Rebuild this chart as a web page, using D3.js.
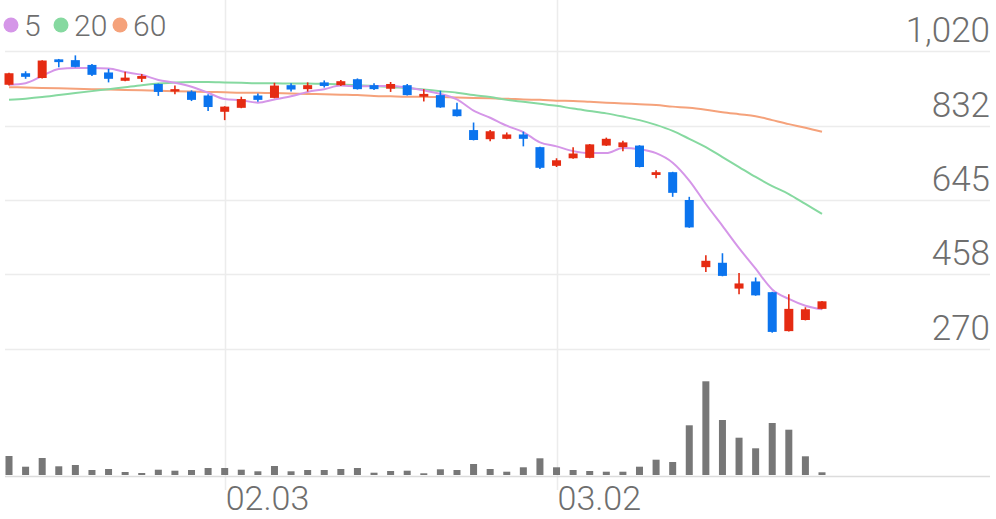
<!DOCTYPE html>
<html><head><meta charset="utf-8">
<script src="https://cdn.jsdelivr.net/npm/d3@7"></script>
<style>
body{margin:0;background:#fff}
svg{display:block}
text{font-family:Roboto,"Noto Sans",sans-serif}
</style></head>
<body><svg id="c" width="996" height="519"></svg>
<script>
// ---- data ----
const dates = ["01.13","01.14","01.15","01.16","01.17","01.20","01.21","01.22","01.23","01.28",
"01.29","01.30","01.31","02.03","02.04","02.05","02.06","02.07","02.10","02.11",
"02.12","02.13","02.14","02.17","02.18","02.19","02.20","02.21","02.24","02.25",
"02.26","02.27","02.28","03.02","03.03","03.04","03.05","03.06","03.09","03.10",
"03.11","03.12","03.13","03.16","03.17","03.18","03.19","03.20","03.23","03.24"];
const open  = [935,964,952,999,997,985,966,945,950,937,918,918,908,867,877,908,902,934,924,941,
934,949,934,925,934,905,909,873,821,798,799,810,778,731,750,751,782,778,782,708,
715,645,476,487,422,440,413,315,343,371];
const high  = [965,969,997,1000,1009,987,975,968,962,938,933,921,911,881,905,913,940,939,941,946,
947,951,939,942,937,924,920,890,840,821,815,817,779,750,778,786,802,794,783,720,
716,653,506,511,461,450,414,408,375,391];
const low   = [933,950,951,979,979,957,941,944,942,907,911,894,869,846,876,892,901,918,918,928,
932,923,922,917,908,893,877,855,795,793,798,780,723,728,749,750,781,768,727,700,
653,575,464,453,408,404,311,314,342,370];
const close = [964,955,996,992,980,960,950,953,957,917,924,897,879,880,899,897,933,923,934,932,
944,924,924,937,909,912,878,856,796,818,810,799,726,745,762,785,799,790,728,715,
663,576,492,454,435,405,313,371,370,390];
const volume = [190,83,170,87,100,50,60,30,20,53,43,50,70,70,53,37,90,37,50,50,
60,70,23,40,43,17,57,50,110,60,33,77,167,77,50,40,33,33,83,153,
130,497,937,550,373,267,520,453,187,27];
const ma5  = [935,939,957,975,977,977,976,967,960,947,940,930,915,899,896,890,898,906,917,924,
933,931,932,932,928,921,912,898,870,852,832,816,790,780,768,763,763,776,773,763,
739,694,635,580,524,472,420,396,379,370];
const ma20 = [897,900,904,909,914,919,924,929,934,938,941,942,942,941,940,939,939,938,938,937,
936,934,932,929,927,923,919,915,909,904,897,892,887,882,875,869,863,855,846,834,
819,799,778,753,728,703,680,660,635,610];
const ma60 = [929,928,927,926,925,924,923,922,921,920,919,918,917,916,915,915,914,913,912,911,
910,909,907,906,905,905,904,903,902,901,900,898,897,895,894,892,890,888,886,884,
880,877,872,866,861,856,846,836,827,817];
const priceTicks = [270,458,645,832,1020];
const dateTicks = ["02.03","03.02"];
const legendNames = ["5","20","60"];
const legendColors = ["#d596e8","#86d9a0","#f5a27b"];

// ---- chart ----
const svg = d3.select("#c");
const x = d3.scalePoint().domain(dates).range([9, 822]);
const y = d3.scaleLinear().domain([270, 1020]).range([349, 51]);
const yv = d3.scaleLinear().domain([0, 1000]).range([475, 375]);
const UP = "#e52b12", DOWN = "#0b74ee";
const TXT = "#6e6e6e";

// horizontal grid
svg.append("g").selectAll("line").data(priceTicks).join("line")
  .attr("x1", 5).attr("x2", 990)
  .attr("y1", d => Math.round(y(d)) + 0.5).attr("y2", d => Math.round(y(d)) + 0.5)
  .attr("stroke", "#ececec").attr("stroke-width", 1.5);
// vertical grid
svg.append("g").selectAll("line").data(dateTicks).join("line")
  .attr("x1", d => Math.round(x(d)) + 0.5).attr("x2", d => Math.round(x(d)) + 0.5)
  .attr("y1", 0).attr("y2", 490)
  .attr("stroke", "#ececec").attr("stroke-width", 1.5);
// volume baseline
svg.append("line").attr("x1", 5).attr("x2", 990).attr("y1", 476.5).attr("y2", 476.5)
  .attr("stroke", "#dcdcdc").attr("stroke-width", 1.5);

// price labels
svg.append("g").selectAll("text").data(priceTicks).join("text")
  .attr("x", 990).attr("y", d => y(d) - 9)
  .attr("text-anchor", "end").attr("font-size", 35).attr("font-weight", 300)
  .attr("fill", TXT).text(d => d3.format(",")(d));
// date labels
svg.append("g").selectAll("text").data(dateTicks).join("text")
  .attr("x", d => x(d) + 1).attr("y", 510)
  .attr("font-size", 34).attr("font-weight", 300)
  .attr("fill", TXT).text(d => d);

// volume bars
svg.append("g").selectAll("rect").data(dates).join("rect")
  .attr("x", d => x(d) - 3.5).attr("width", 7)
  .attr("y", (d, i) => yv(volume[i])).attr("height", (d, i) => yv(0) - yv(volume[i]))
  .attr("fill", "#777");

// moving averages
const line = arr => d3.line().x((d, i) => x(dates[i])).y(d => y(d)).curve(d3.curveMonotoneX)(arr);
[[ma60, legendColors[2]], [ma20, legendColors[1]], [ma5, legendColors[0]]].forEach(([arr, c]) => {
  svg.append("path").attr("d", line(arr)).attr("fill", "none")
    .attr("stroke", c).attr("stroke-width", 2);
});

// candles
const cg = svg.append("g");
dates.forEach((d, i) => {
  const col = close[i] >= open[i] ? UP : DOWN;
  const cx = x(d);
  cg.append("line").attr("x1", cx).attr("x2", cx)
    .attr("y1", y(high[i])).attr("y2", y(low[i]))
    .attr("stroke", col).attr("stroke-width", 1.6);
  const top = y(Math.max(open[i], close[i])), bot = y(Math.min(open[i], close[i]));
  cg.append("rect").attr("x", cx - 4.5).attr("width", 9)
    .attr("y", top).attr("height", Math.max(2, bot - top))
    .attr("fill", col);
});

// legend
const lg = svg.append("g");
const lx = [11, 61, 120];
legendNames.forEach((n, i) => {
  lg.append("circle").attr("cx", lx[i]).attr("cy", 25).attr("r", 7.5).attr("fill", legendColors[i]);
  lg.append("text").attr("x", lx[i] + 13).attr("y", 36).attr("font-size", 30).attr("font-weight", 300)
    .attr("fill", TXT).text(n);
});
</script></body></html>
